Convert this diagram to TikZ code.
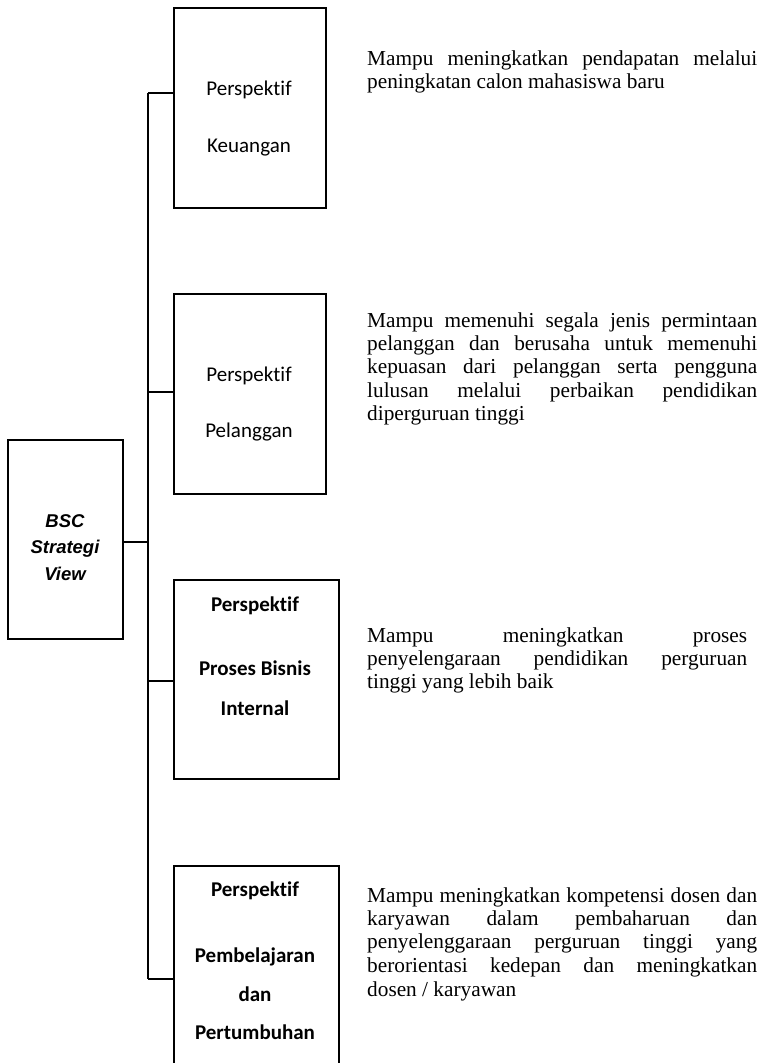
\documentclass[tikz,border=0pt]{standalone}
\usepackage{fontspec}
\setmainfont{Liberation Serif}
\newfontfamily\calibri[Ligatures=NoCommon]{Carlito}
\newfontfamily\arialf{Liberation Sans}
\begin{document}
\begin{tikzpicture}[x=1pt,y=-1pt,
  box/.style={draw, line width=1.5pt, rectangle, inner sep=0pt, anchor=north west},
  conn/.style={line width=1.5pt},
  lab/.style={anchor=base, inner sep=0pt, font=\calibri\fontsize{21}{25}\selectfont},
  blab/.style={anchor=base, inner sep=0pt, font=\calibri\bfseries\fontsize{21}{25}\selectfont},
  bsc/.style={anchor=base, inner sep=0pt, font=\arialf\bfseries\itshape\fontsize{18.5}{22}\selectfont},
  desc/.style={anchor=base west, inner sep=0pt, font=\fontsize{21.3}{23}\selectfont}]
\useasboundingbox (0,0) rectangle (762,1063);
\clip (0,0) rectangle (762,1063);
% boxes
\node[box, minimum width=115pt, minimum height=199pt] (b) at (7,439) {};
\node[box, minimum width=152pt, minimum height=200pt] (k) at (173,7) {};
\node[box, minimum width=152pt, minimum height=200pt] (p) at (173,293) {};
\node[box, minimum width=165pt, minimum height=199pt] (i) at (173,579) {};
\node[box, minimum width=165pt, minimum height=230pt] (l) at (173,865) {};
% box texts
\node[bsc] (b1) at (65,527) {BSC};
\node[bsc] (b2) at (65,553) {Strategi};
\node[bsc] (b3) at (65,580) {View};
\node[lab] (k1) at (249,95) {Perspektif};
\node[lab] (k2) at (249,152) {Keuangan};
\node[lab] (p1) at (249,381) {Perspektif};
\node[lab] (p2) at (249,437) {Pelanggan};
\node[blab] (i1) at (255,611) {Perspektif};
\node[blab] (i2) at (255,675) {Proses Bisnis};
\node[blab] (i3) at (255,715) {Internal};
\node[blab] (l1) at (255,896) {Perspektif};
\node[blab] (l2) at (255,962) {Pembelajaran};
\node[blab] (l3) at (255,1001) {dan};
\node[blab] (l4) at (255,1039) {Pertumbuhan};
% connectors
\coordinate (s0) at (148,542);
\coordinate (s1) at (148,93);
\coordinate (s2) at (148,392);
\coordinate (s3) at (148,681);
\coordinate (s4) at (148,979);
\draw[conn] (s1) -- (s4);
\draw[conn] (b.east |- s0) -- (s0);
\draw[conn] (s1) -- (s1 -| k.west);
\draw[conn] (s2) -- (s2 -| p.west);
\draw[conn] (s3) -- (s3 -| i.west);
\draw[conn] (s4) -- (s4 -| l.west);
% descriptions
\node[desc] (d11) at (367,65) {\makebox[390pt][s]{Mampu meningkatkan pendapatan melalui}};
\node[desc] (d12) at (367,88) {peningkatan calon mahasiswa baru};
\node[desc] (d21) at (367,327) {\makebox[390pt][s]{Mampu memenuhi segala jenis permintaan}};
\node[desc] (d22) at (367,350) {\makebox[390pt][s]{pelanggan dan berusaha untuk memenuhi}};
\node[desc] (d23) at (367,373) {\makebox[390pt][s]{kepuasan dari pelanggan serta pengguna}};
\node[desc] (d24) at (367,397) {\makebox[390pt][s]{lulusan melalui perbaikan pendidikan}};
\node[desc] (d25) at (367,420) {diperguruan tinggi};
\node[desc] (d31) at (367,642) {\makebox[380pt][s]{Mampu meningkatkan proses}};
\node[desc] (d32) at (367,665) {\makebox[380pt][s]{penyelengaraan pendidikan perguruan}};
\node[desc] (d33) at (367,688) {tinggi yang lebih baik};
\node[desc] (d41) at (367,902) {\makebox[390pt][s]{Mampu meningkatkan kompetensi dosen dan}};
\node[desc] (d42) at (367,925) {\makebox[390pt][s]{karyawan dalam pembaharuan dan}};
\node[desc] (d43) at (367,948) {\makebox[390pt][s]{penyelenggaraan perguruan tinggi yang}};
\node[desc] (d44) at (367,972) {\makebox[390pt][s]{berorientasi kedepan dan meningkatkan}};
\node[desc] (d45) at (367,996) {dosen / karyawan};
\end{tikzpicture}
\end{document}
